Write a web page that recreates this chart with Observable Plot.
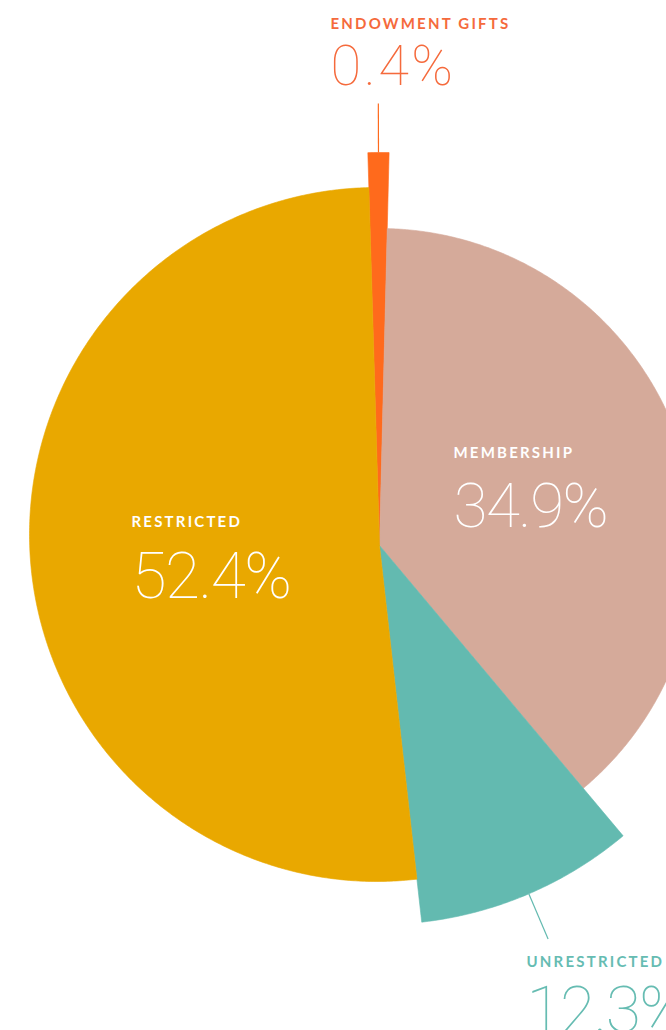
<!DOCTYPE html>
<html>
<head>
<meta charset="utf-8">
<script src="https://cdn.jsdelivr.net/npm/d3@7"></script>
<script src="https://cdn.jsdelivr.net/npm/@observablehq/plot@0.6"></script>
<style>
  html, body { margin: 0; padding: 0; background: #fff; overflow: hidden; }
  #chart svg { display: block; overflow: hidden; }
</style>
</head>
<body>
<div id="chart"></div>
<script>
// ---- data ----
const categories = ["ENDOWMENT GIFTS", "MEMBERSHIP", "UNRESTRICTED", "RESTRICTED"];
const values = [0.4, 34.9, 12.3, 52.4];          // labelled share, %
const sweepDeg = [3.1, 138.6, 33.6, 184.7];      // angular sweep of each slice as drawn, degrees

// ---- style ----
const W = 666, H = 1030;
const cx = 379, cy = 545;                        // pie centre (wedge vertex) in the page
const startDeg = -1.7;                           // first slice starts just left of 12 o'clock
const radii = [393, 317, 379, 347];
const arcOffset = [[0, 0], [0, 0], [0, 0], [-3, -11]]; // restricted outer arc is slightly off-centre
const colors = ["#FF6A1C", "#D5AA9A", "#63BAB0", "#E9A800"];
const labelColors = ["#F56A3C", "#FFFFFF", "#66BCB2", "#FFFFFF"];
// label anchor relative to pie centre: [dx, dy of name baseline, dy of value baseline]
const labelLayout = [
  [-49, -517, -461],
  [74, -88, -19],
  [147, 421, 486],
  [-248, -19, 52]
];
const pctSizes = [56, 62, 64, 64];
const pctSpacing = [2.5, -1.5, -1.5, -1.5];
const leader = [true, false, true, false];
const leaderLen = 49;

// ---- build geometry ----
const rad = d => d * Math.PI / 180;
const unit = deg => [Math.sin(rad(deg)), -Math.cos(rad(deg))];
// distance from the wedge vertex, along direction deg, to a circle of radius r centred at off
const reach = (deg, r, off) => {
  const [ux, uy] = unit(deg);
  const b = ux * off[0] + uy * off[1];
  const c = off[0] * off[0] + off[1] * off[1] - r * r;
  return b + Math.sqrt(b * b - c);
};

let a = startDeg;
const slices = categories.map((c, i) => {
  const s = {cat: c, value: values[i], a0: a, a1: a + sweepDeg[i], r: radii[i], off: arcOffset[i]};
  a += sweepDeg[i];
  return s;
});

const pts = [];
for (const s of slices) {
  pts.push({cat: s.cat, x: 0, y: 0});
  const n = Math.max(4, Math.ceil((s.a1 - s.a0) / 0.5));
  for (let k = 0; k <= n; k++) {
    const deg = s.a0 + (s.a1 - s.a0) * k / n;
    const t = reach(deg, s.r, s.off);
    const [ux, uy] = unit(deg);
    pts.push({cat: s.cat, x: t * ux, y: t * uy});
  }
  pts.push({cat: s.cat, x: 0, y: 0});
}

const leaders = slices.filter((s, i) => leader[i]).map(s => {
  const m = (s.a0 + s.a1) / 2;
  const t = reach(m, s.r, s.off);
  const [ux, uy] = unit(m);
  return {cat: s.cat, x1: t * ux, y1: t * uy, x2: (t + leaderLen) * ux, y2: (t + leaderLen) * uy};
});

const labels = slices.map((s, i) => ({
  cat: s.cat,
  name: s.cat,
  pct: s.value.toFixed(1) + "%",
  x: labelLayout[i][0],
  yName: labelLayout[i][1],
  yPct: labelLayout[i][2],
  color: labelColors[i],
  size: pctSizes[i],
  spacing: pctSpacing[i]
}));

const chart = Plot.plot({
  width: W,
  height: H,
  margin: 0,
  x: {domain: [-cx, W - cx], range: [0, W], axis: null},
  y: {domain: [-cy, H - cy], range: [0, H], axis: null},
  color: {domain: categories, range: colors},
  style: {background: "#fff"},
  marks: [
    Plot.line(pts, {x: "x", y: "y", z: "cat", fill: "cat", stroke: "cat", strokeWidth: 0.6, curve: "linear"}),
    Plot.link(leaders, {x1: "x1", y1: "y1", x2: "x2", y2: "y2", stroke: "cat", strokeWidth: 1.2}),
    Plot.text(labels, {
      x: "x", y: "yName", text: "name", fill: d => d.color,
      textAnchor: "start", lineAnchor: "bottom",
      fontFamily: "Lato, 'Open Sans', sans-serif", fontWeight: 700, fontSize: 15
    }),
    Plot.text(labels, {
      x: "x", y: "yPct", text: "pct", fill: d => d.color,
      textAnchor: "start", lineAnchor: "bottom",
      fontFamily: "Roboto, Lato, sans-serif", fontWeight: 100, fontSize: "size"
    })
  ]
});

document.getElementById("chart").appendChild(chart);
const textGroups = d3.select(chart).selectAll('g[aria-label="text"]').nodes();
d3.select(textGroups[0]).selectAll("text").style("letter-spacing", "2.2px");
d3.select(textGroups[1]).selectAll("text").each(function(i) {
  d3.select(this).style("letter-spacing", labels[i].spacing + "px");
});
</script>
</body>
</html>
